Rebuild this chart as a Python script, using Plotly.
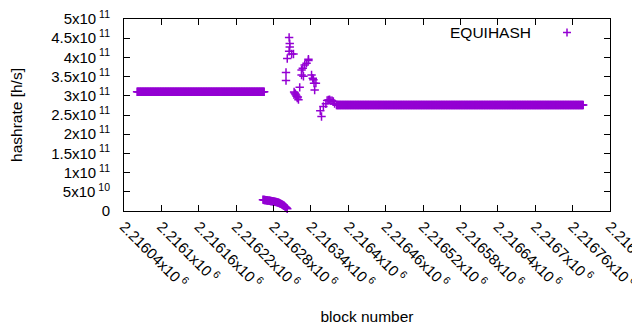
import plotly.graph_objects as go

# ---- data ----
# flat segment 1: consecutive blocks with constant hashrate
flat1_first_block = 2216061
flat1_last_block = 2216265
flat1_value = 3.107e11

# low cluster (blocks 2216263..2216302), values in units of 1e10
low_first_block = 2216263
low_values_e10 = [2.95, 2.9, 2.88, 2.85, 2.83, 2.8, 2.78, 2.75, 2.72, 2.7,
                  2.68, 2.65, 2.62, 2.6, 2.57, 2.55, 2.52, 2.48, 2.45, 2.42,
                  2.38, 2.35, 2.3, 2.25, 2.2, 2.15, 2.08, 2.0, 1.92, 1.85,
                  1.75, 1.65, 1.55, 1.45, 1.35, 1.2, 1.05, 0.9, 0.75, 0.6]

# scattered transition points
scatter_blocks = [2216300, 2216300, 2216302, 2216305, 2216305, 2216306, 2216306,
                  2216309, 2216312, 2216313, 2216314, 2216315, 2216316, 2216317,
                  2216318, 2216320, 2216322, 2216319, 2216325, 2216325, 2216327,
                  2216328, 2216330, 2216333, 2216336, 2216336, 2216341, 2216343,
                  2216344, 2216345, 2216348, 2216346, 2216355, 2216357, 2216360,
                  2216364, 2216366, 2216368, 2216370, 2216372, 2216374, 2216376,
                  2216378]
scatter_values_e11 = [3.61, 3.40, 3.97, 4.16, 4.52, 4.36, 4.27,
                      4.09, 4.09, 3.10, 3.07, 3.05, 3.02, 2.99,
                      2.94, 2.90, 3.22, 2.97, 3.67, 3.54, 3.72,
                      3.51, 3.80, 3.85, 3.95, 3.92, 3.54, 3.46,
                      3.42, 3.33, 3.33, 3.15, 2.61, 2.46, 2.72,
                      2.79, 2.88, 2.89, 2.90, 2.87, 2.87, 2.85,
                      2.80]

# flat segment 2
flat2_first_block = 2216381
flat2_last_block = 2216777
flat2_value = 2.76e11

# axis ticks
x_tickvals = [2216040, 2216100, 2216160, 2216220, 2216280, 2216340, 2216400,
              2216460, 2216520, 2216580, 2216640, 2216700, 2216760, 2216820]
x_tick_mantissas = ["2.21604", "2.2161", "2.21616", "2.21622", "2.21628", "2.21634",
                    "2.2164", "2.21646", "2.21652", "2.21658", "2.21664", "2.2167",
                    "2.21676", "2.21682"]
y_tickvals = [0, 5e10, 1e11, 1.5e11, 2e11, 2.5e11, 3e11, 3.5e11, 4e11, 4.5e11, 5e11]
y_ticktext_plain = ["0", "5x10|10", "1x10|11", "1.5x10|11", "2x10|11", "2.5x10|11",
                    "3x10|11", "3.5x10|11", "4x10|11", "4.5x10|11", "5x10|11"]

# ---- assemble series ----
xs, ys = [], []
n1 = flat1_last_block - flat1_first_block + 1
xs += [flat1_first_block + i for i in range(n1)]
ys += [flat1_value] * n1
xs += [low_first_block + i for i in range(len(low_values_e10))]
ys += [v * 1e10 for v in low_values_e10]
xs += scatter_blocks
ys += [v * 1e11 for v in scatter_values_e11]
n2 = flat2_last_block - flat2_first_block + 1
xs += [flat2_first_block + i for i in range(n2)]
ys += [flat2_value] * n2

COLOR = "#9400D3"
FONT = "Liberation Sans, Arial, sans-serif"

# page body has an 8px margin, so the figure is 8px smaller than the window
W, H = 632, 322
L, T, PW, PH = 116, 11, 486, 192


def sup(t):
    if "|" in t:
        a, b = t.split("|")
        return f"{a}<sup> {b}</sup>"
    return t


def px(x):
    return (x - 8 - L) / PW


def py(y):
    return 1 - (y - 8 - T) / PH


fig = go.Figure()
fig.add_trace(go.Scatter(
    x=xs, y=ys, mode="markers", name="EQUIHASH",
    marker=dict(symbol="cross-thin", size=6, color=COLOR,
                line=dict(color=COLOR, width=1.5)),
    cliponaxis=False, showlegend=False,
))

fig.update_layout(
    width=W, height=H,
    margin=dict(l=L, r=W - L - PW, t=T, b=H - T - PH),
    paper_bgcolor="white", plot_bgcolor="white",
    font=dict(family=FONT, size=15, color="black"),
    showlegend=False,
    xaxis=dict(
        range=[2216040, 2216820],
        tickvals=x_tickvals,
        ticktext=[f"{m}x10<sup> 6</sup>" for m in x_tick_mantissas],
        tickangle=45,
        ticks="inside", ticklen=6, tickcolor="black",
        showline=True, linecolor="black", linewidth=1, mirror="allticks",
        showgrid=False, zeroline=False,
        tickfont=dict(size=15),
        ticklabeloverflow="allow",
        title=dict(text="block number", font=dict(size=15.5), standoff=20),
        automargin=False,
    ),
    yaxis=dict(
        range=[0, 5e11],
        tickvals=y_tickvals,
        ticktext=[sup(t) for t in y_ticktext_plain],
        ticks="inside", ticklen=6, tickcolor="black",
        showline=True, linecolor="black", linewidth=1, mirror="allticks",
        showgrid=False, zeroline=False,
        tickfont=dict(size=15),
        ticklabelstandoff=10,
        ticklabeloverflow="allow",
        title=dict(text="hashrate [h/s]", font=dict(size=15.5), standoff=24),
        automargin=False,
    ),
    annotations=[dict(
        text="EQUIHASH", xref="paper", yref="paper",
        x=px(533), y=py(32.5),
        xanchor="right", yanchor="middle", showarrow=False,
        font=dict(size=15.5, color="black"),
    )],
    shapes=[
        dict(type="line", xref="paper", yref="paper",
             x0=px(563), x1=px(571), y0=py(32.5), y1=py(32.5),
             line=dict(color=COLOR, width=1.5)),
        dict(type="line", xref="paper", yref="paper",
             x0=px(567), x1=px(567), y0=py(28.5), y1=py(36.5),
             line=dict(color=COLOR, width=1.5)),
    ],
)

fig.write_html("out.html")
